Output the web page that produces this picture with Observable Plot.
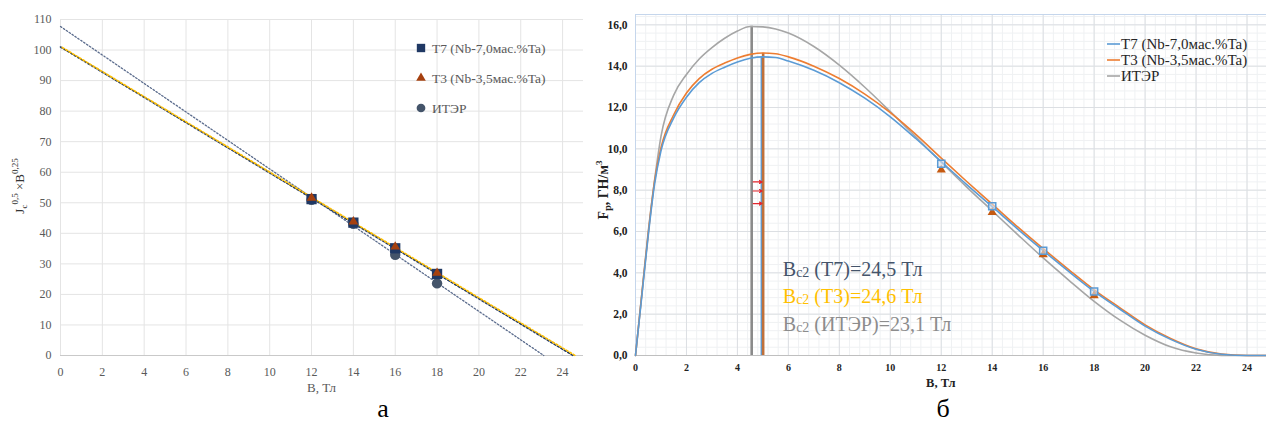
<!DOCTYPE html>
<html><head><meta charset="utf-8">
<script src="https://cdn.jsdelivr.net/npm/d3@7"></script>
<script src="https://cdn.jsdelivr.net/npm/@observablehq/plot@0.6"></script>
<style>
body{margin:0;background:#fff;}
#wrap{position:relative;width:1266px;height:425px;overflow:hidden;font-family:"Liberation Serif",serif;background:#fff;}
#wrap svg{position:absolute;top:0;}
.panel{position:absolute;top:394px;font-size:26px;color:#000;font-family:"Liberation Serif",serif;transform:translateX(-50%);}
</style></head>
<body><div id="wrap"></div>
<script>
// ---------- Panel а data ----------
const fieldA = [12, 14, 16, 18];
const jT7 = [51.2, 43.5, 35.1, 26.7];
const jT3 = [51.6, 43.8, 35.6, 27.0];
const jITER = [51.0, 43.1, 33.0, 23.6];
const trendBT7 = [0, 24.5], trendJT7 = [101.0, 0];
const trendBT3 = [0, 24.6], trendJT3 = [101.2, 0];
const trendBITER = [0, 23.1], trendJITER = [107.7, 0];
const ticksAX = [0, 2, 4, 6, 8, 10, 12, 14, 16, 18, 20, 22, 24];
const ticksAY = [0, 10, 20, 30, 40, 50, 60, 70, 80, 90, 100, 110];
const legendA = ["T7 (Nb-7,0мас.%Ta)", "T3 (Nb-3,5мас.%Ta)", "ИТЭР"];

// ---------- Panel б data ----------
const curveB = [0, 0.25, 0.5, 0.75, 1, 1.5, 2, 2.5, 3, 3.5, 4, 4.5, 5, 5.5, 6, 7, 8, 9, 10, 11, 12, 13, 14, 15, 16, 17, 18, 19, 20, 21, 22, 23, 24, 25];
const fpT7curve = [0, 2.9, 5.8, 8.3, 9.9, 11.5, 12.5, 13.2, 13.65, 13.95, 14.2, 14.38, 14.45, 14.42, 14.25, 13.8, 13.2, 12.45, 11.55, 10.5, 9.38, 8.27, 7.2, 6.12, 5.08, 4.07, 3.1, 2.25, 1.42, 0.78, 0.3, 0.06, 0, 0];
const fpT3curve = [0, 3.0, 5.9, 8.45, 10.05, 11.65, 12.7, 13.4, 13.85, 14.15, 14.4, 14.57, 14.64, 14.6, 14.45, 14.0, 13.4, 12.65, 11.75, 10.7, 9.55, 8.42, 7.32, 6.22, 5.17, 4.16, 3.18, 2.32, 1.48, 0.82, 0.32, 0.07, 0.003, 0];
const fpITERcurve = [0, 3.0, 6.0, 8.5, 10.6, 12.6, 13.6, 14.35, 14.9, 15.35, 15.7, 15.92, 15.9, 15.8, 15.6, 14.95, 14.05, 12.98, 11.8, 10.58, 9.35, 8.15, 7.0, 5.85, 4.72, 3.65, 2.62, 1.72, 0.98, 0.42, 0.12, 0.005, 0, 0];
const fieldB = [12, 14, 16, 18];
const fpT7 = [9.28, 7.22, 5.07, 3.1];
const fpT3 = [8.98, 6.93, 4.88, 2.9];
const peakNames = ["ИТЭР", "T7", "T3"];
const peakB = [4.56, 4.94, 5.01];
const peakF = [15.93, 14.45, 14.62];
const arrowF = [8.4, 7.96, 7.35];
const arrowB1 = [4.62, 4.62, 4.62];
const arrowB2 = [4.97, 4.97, 4.97];
const ticksBX = [0, 2, 4, 6, 8, 10, 12, 14, 16, 18, 20, 22, 24];
const ticksBY = [0, 2, 4, 6, 8, 10, 12, 14, 16];
const legendB = ["T7 (Nb-7,0мас.%Ta)", "T3 (Nb-3,5мас.%Ta)", "ИТЭР"];
const bc2Names = ["T7", "T3", "ИТЭР"];
const bc2Values = ["24,5", "24,6", "23,1"];

// ---------- helpers ----------
const pts = (xs, ys) => xs.map((x, i) => ({x, y: ys[i]}));
const SERIF = "'Liberation Serif', 'Times New Roman', serif";
function rich(sel, x, y, parts, attrs) {
  const t = sel.append("text").attr("x", x).attr("y", y);
  Object.entries(attrs || {}).forEach(([k, v]) => t.attr(k, v));
  parts.forEach(p => {
    const ts = t.append("tspan").text(p.t);
    if (p.s) ts.attr("font-size", p.s);
    if (p.dy) ts.attr("dy", p.dy);
    if (p.fill) ts.attr("fill", p.fill);
  });
  return t;
}

const wrap = document.getElementById("wrap");

// ---------- Panel а ----------
const plotA = Plot.plot({
  width: 600, height: 395,
  marginLeft: 60, marginRight: 17, marginTop: 19, marginBottom: 40,
  x: {domain: [0, 25]},
  y: {domain: [0, 110]},
  style: {fontFamily: SERIF, color: "#595959", background: "transparent", overflow: "visible"},
  marks: [
    Plot.gridX(ticksAX, {stroke: "#e4e4e4", strokeOpacity: 1}),
    Plot.gridY(ticksAY, {stroke: "#e4e4e4", strokeOpacity: 1}),
    Plot.ruleY([0], {stroke: "#c9c9c9"}),
    Plot.axisX(ticksAX, {tickSize: 0, tickPadding: 12, fontSize: 12, label: null}),
    Plot.axisY(ticksAY, {tickSize: 0, tickPadding: 9, fontSize: 12, label: null}),
    Plot.line(pts(trendBITER, trendJITER), {x: "x", y: "y", stroke: "#5a6b8c", strokeWidth: 1.3, strokeDasharray: "1.5 2"}),
    Plot.line(pts(trendBT7, trendJT7), {x: "x", y: "y", stroke: "#203864", strokeWidth: 1.6, strokeDasharray: "2 2"}),
    Plot.line(pts(trendBT3, trendJT3), {x: "x", y: "y", stroke: "#ffc000", strokeWidth: 1.6, strokeDasharray: "2 2", strokeDashoffset: 2}),
    Plot.dot(pts(fieldA, jITER), {x: "x", y: "y", symbol: "circle", r: 5.2, fill: "#44546a"}),
    Plot.dot(pts(fieldA, jT7), {x: "x", y: "y", symbol: "square", r: 5.8, fill: "#1f3864"}),
    Plot.dot(pts(fieldA, jT3), {x: "x", y: "y", symbol: "triangle", r: 3.6, fill: "#a5400f"})
  ]
});
wrap.appendChild(plotA);
plotA.style.left = "0px";
{
  const s = d3.select(plotA);
  const syms = [d3.symbolSquare, d3.symbolTriangle, d3.symbolCircle];
  const cols = ["#1f3864", "#a5400f", "#44546a"];
  const sizes = [70, 40, 60];
  legendA.forEach((lab, i) => {
    const yy = 48 + i * 30;
    s.append("path").attr("d", d3.symbol(syms[i], sizes[i])()).attr("transform", `translate(421,${yy})`).attr("fill", cols[i]);
    s.append("text").attr("x", 432).attr("y", yy).attr("dy", "0.35em").attr("text-anchor", "start").attr("font-size", 13.5).attr("fill", "#595959").attr("font-family", SERIF).text(lab);
  });
  s.append("text").attr("x", plotA.scale("x").apply(12.5)).attr("y", 392).attr("text-anchor", "middle").attr("font-size", 13).attr("fill", "#595959").attr("font-family", SERIF).text("B, Тл");
  rich(s, 0, 0, [
    {t: "J", s: 13}, {t: "c", s: 9, dy: 3}, {t: "0,5", s: 9, dy: -9}, {t: " ×B", s: 13, dy: 6}, {t: "0,25", s: 9, dy: -6}
  ], {transform: "translate(24,186) rotate(-90)", "text-anchor": "middle", fill: "#333", "font-family": SERIF});
}

// ---------- Panel б ----------
const curves = [
  {name: "ИТЭР", vals: fpITERcurve, color: "#a6a6a6"},
  {name: "T3", vals: fpT3curve, color: "#ed7d31"},
  {name: "T7", vals: fpT7curve, color: "#5b9bd5"}
];
const peakColors = {"ИТЭР": "#8a8a8a", "T7": "#5b9bd5", "T3": "#c0703a"};
const peakWidths = {"ИТЭР": 2.6, "T7": 1.6, "T3": 2.6};
const peaks = peakNames.map((n, i) => ({n, B: peakB[i], F: peakF[i]}));
const arrows = arrowF.map((f, i) => ({x1: arrowB1[i], x2: arrowB2[i], y: f}));
const minorX = d3.range(0, 25.001, 0.4);
const minorY = d3.range(0, 16.501, 0.4);

const plotB = Plot.plot({
  width: 682, height: 395,
  marginLeft: 45, marginRight: 0, marginTop: 14, marginBottom: 40,
  x: {domain: [0, 25]},
  y: {domain: [0, 16.5]},
  style: {fontFamily: SERIF, color: "#222", background: "transparent", overflow: "visible"},
  marks: [
    Plot.gridX(minorX, {stroke: "#eff1f3", strokeOpacity: 1}),
    Plot.gridY(minorY, {stroke: "#eff1f3", strokeOpacity: 1}),
    Plot.gridX(ticksBX, {stroke: "#dcdfe3", strokeOpacity: 1}),
    Plot.gridY(ticksBY, {stroke: "#dcdfe3", strokeOpacity: 1}),
    Plot.frame({stroke: "#c5d6ec"}),
    Plot.ruleY([0], {stroke: "#bfbfbf"}),
    Plot.axisX(ticksBX, {tickSize: 0, tickPadding: 8, fontSize: 10, fontWeight: "bold", label: null}),
    Plot.axisY(ticksBY, {tickSize: 0, tickPadding: 8, fontSize: 11.5, fontWeight: "bold", label: null, tickFormat: d => d.toFixed(1).replace(".", ",")}),
    Plot.ruleX(peaks, {x: "B", y1: 0, y2: "F", stroke: d => peakColors[d.n], strokeWidth: d => peakWidths[d.n]}),
    ...curves.map(c => Plot.line(pts(curveB, c.vals), {x: "x", y: "y", stroke: c.color, strokeWidth: 1.6, curve: "monotone-x"})),
    Plot.arrow(arrows, {x1: "x1", x2: "x2", y1: "y", y2: "y", stroke: "#e3262d", strokeWidth: 1.2, headLength: 5, headAngle: 60}),
    Plot.dot(pts(fieldB, fpT3), {x: "x", y: "y", symbol: "triangle", r: 3.4, fill: "#c55a11"}),
    Plot.dot(pts(fieldB, fpT7), {x: "x", y: "y", symbol: "square", r: 4, fill: "#dbe5f1", fillOpacity: 0.6, stroke: "#5b9bd5", strokeWidth: 1.5})
  ]
});
wrap.appendChild(plotB);
plotB.style.left = "590px";
{
  const s = d3.select(plotB);
  const xs = plotB.scale("x"), ys = plotB.scale("y");
  const legCols = ["#5b9bd5", "#ed7d31", "#a6a6a6"];
  legendB.forEach((lab, i) => {
    const yy = 44 + i * 16;
    s.append("line").attr("x1", 517).attr("x2", 530).attr("y1", yy).attr("y2", yy).attr("stroke", legCols[i]).attr("stroke-width", 1.6);
    s.append("text").attr("x", 531).attr("y", yy).attr("dy", "0.35em").attr("text-anchor", "start").attr("font-size", 15).attr("fill", "#262626").attr("font-family", SERIF).text(lab);
  });
  const bcCols = ["#44546a", "#ffc000", "#8c8c8c"];
  const bcF = [4.0, 2.67, 1.35];
  bc2Names.forEach((n, i) => {
    rich(s, xs.apply(5.8), ys.apply(bcF[i]), [
      {t: "B", s: 20}, {t: "c2", s: 14, dy: 1}, {t: ` (${n})=${bc2Values[i]} Тл`, s: 20, dy: -1}
    ], {dy: "0.35em", "text-anchor": "start", fill: bcCols[i], "font-family": SERIF});
  });
  s.append("text").attr("x", xs.apply(12.0)).attr("y", 387).attr("text-anchor", "middle").attr("font-size", 12.5).attr("font-weight", "bold").attr("fill", "#222").attr("font-family", SERIF).text("B, Тл");
  rich(s, 0, 0, [
    {t: "F", s: 14}, {t: "p", s: 10, dy: 3}, {t: ", ГН/м", s: 14, dy: -3}, {t: "3", s: 9, dy: -6}
  ], {transform: "translate(18,190) rotate(-90)", "text-anchor": "middle", fill: "#222", "font-weight": "bold", "font-family": SERIF});
}

// panel letters
[["а", 383], ["б", 943]].forEach(([t, x]) => {
  const d = document.createElement("div");
  d.className = "panel"; d.style.left = x + "px"; d.textContent = t;
  wrap.appendChild(d);
});
</script></body></html>
